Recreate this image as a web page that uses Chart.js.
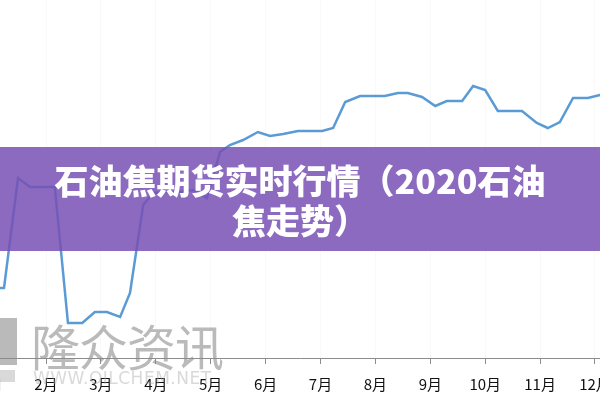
<!DOCTYPE html>
<html>
<head>
<meta charset="utf-8">
<script src="https://cdn.jsdelivr.net/npm/chart.js@4"></script>
<style>
  html,body{margin:0;padding:0;width:600px;height:400px;overflow:hidden;background:#fff;}
  #wrap{position:absolute;left:-60px;top:0;width:720px;height:404px;}
  #banner{position:absolute;left:0;top:147px;width:600px;height:104px;background:rgba(120,80,180,0.85);
    color:#fff;font:900 34px "Noto Sans CJK SC";text-align:center;}
  #banner div{position:absolute;left:0;width:600px;line-height:40px;}
  #wm{position:absolute;left:0;top:0;width:600px;height:400px;pointer-events:none;}
  .wmtext{position:absolute;left:31px;top:309px;font:49px "Noto Sans CJK SC";color:rgba(140,140,140,0.6);letter-spacing:-1px;}
  .wmurl{position:absolute;left:33px;top:368px;font:17px "DejaVu Sans";color:rgba(170,170,170,0.45);letter-spacing:0.5px;}
  .wmlogo1{position:absolute;left:0;top:318px;width:17px;height:47px;background:rgba(140,140,140,0.6);}
  .wmlogo2{position:absolute;left:0;top:370px;width:15px;height:12px;background:rgba(170,170,170,0.45);}
</style>
</head>
<body>
<div id="wrap"><canvas id="c" width="720" height="404"></canvas></div>
<div id="wm">
  <div class="wmlogo1"></div><div class="wmlogo2"></div>
  <div class="wmtext">隆众资讯</div>
  <div class="wmurl">WWW.OILCHEM.NET</div>
</div>
<div id="banner">
  <div style="top:13px">石油焦期货实时行情（2020石油</div>
  <div style="top:53px">焦走势）</div>
</div>
<script>
// Month positions (1 = January) of each weekly observation
const weeks = [1.00,1.235,1.49,1.71,2.16,2.40,2.66,2.89,3.11,3.35,3.53,3.77,3.95,4.20,4.44,4.68,4.93,5.17,5.35,5.59,5.86,6.08,6.32,6.59,7.03,7.23,7.45,7.72,8.17,8.41,8.59,8.85,9.09,9.30,9.58,9.78,10.00,10.23,10.67,10.94,11.14,11.36,11.60,11.87,12.09,12.31];
// Petroleum coke price (yuan/ton, estimated)
const prices = [1150,1150,1700,1655,1655,975,975,1030,1030,1005,1125,1565,1625,1630,1630,1640,1600,1830,1865,1890,1930,1910,1920,1935,1935,1950,2080,2110,2110,2125,2125,2105,2060,2085,2085,2160,2140,2035,2035,1975,1950,1980,2100,2100,2115,2125];
// Month tick values and labels
const monthTicks = [1,2,3,4,5,6,7,8,9,10,11,12];
const monthLabels = ['1月','2月','3月','4月','5月','6月','7月','8月','9月','10月','11月','12月'];

const points = weeks.map((w,i)=>({x:w,y:prices[i]}));

new Chart(document.getElementById('c'),{
  type:'line',
  data:{datasets:[{data:points,borderColor:'#5b9bd5',borderWidth:2.5,pointRadius:0,tension:0,fill:false}]},
  options:{
    responsive:false,animation:false,
    layout:{padding:{left:0,right:0,top:0,bottom:0}},
    plugins:{legend:{display:false},tooltip:{enabled:false}},
    scales:{
      x:{type:'linear',min:0.069,max:13.184,
        afterBuildTicks:s=>{s.ticks=monthTicks.map(v=>({value:v}));},
        grid:{display:true,drawOnChartArea:true,color:'rgba(0,0,0,0.025)',tickLength:6,tickColor:'#8c8c8c'},
        border:{display:true,color:'#8c8c8c',width:1},
        ticks:{padding:11,color:'#111',font:{family:'"Noto Sans CJK SC"',size:15},maxRotation:0,autoSkip:false,
          callback:(v)=>monthLabels[monthTicks.indexOf(v)]}
      },
      y:{display:false,min:800,max:2590}
    }
  }
});
</script>
</body>
</html>
